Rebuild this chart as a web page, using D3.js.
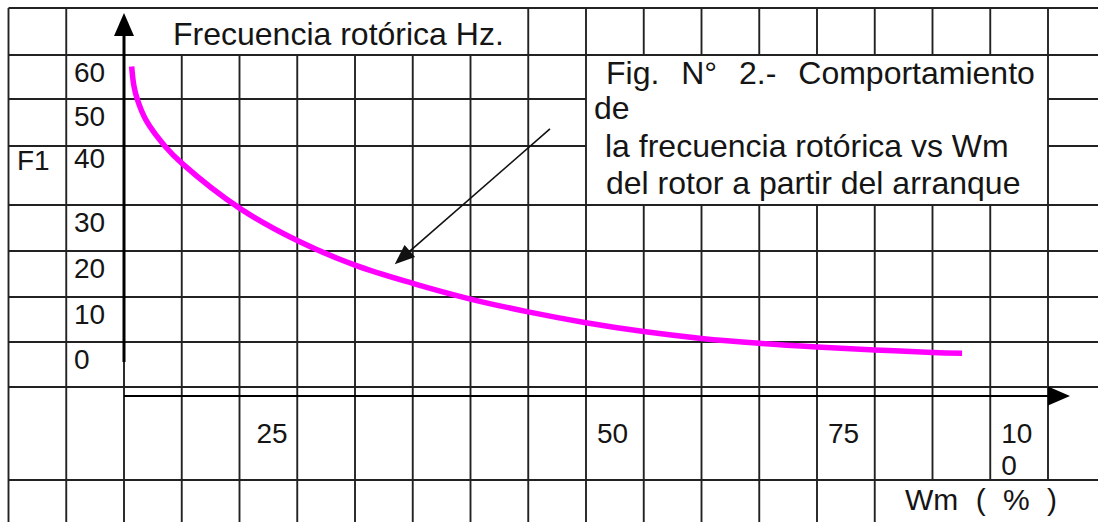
<!DOCTYPE html>
<html>
<head>
<meta charset="utf-8">
<script src="https://cdn.jsdelivr.net/npm/d3@7"></script>
<style>
  body { margin: 0; background: #fff; }
  svg { display: block; }
  text { font-family: "Liberation Sans", Arial, sans-serif; fill: #151515; }
</style>
</head>
<body>
<svg></svg>
<script>
// ---------------- data ----------------
const wm = [0.83, 1.06, 1.46, 2.38, 4.44, 6.28, 12.5, 18.75, 25, 31.25, 37.5, 43.75, 50, 56.25, 62.5, 68.75, 75, 81.25, 87.5, 90.7];
const f1 = [60.1, 56.3, 53.3, 49.2, 43.9, 40.4, 31.3, 24.7, 19.7, 16.0, 12.8, 10.2, 8.0, 6.2, 4.8, 3.8, 3.05, 2.45, 1.95, 1.8];
const yTicks = [60, 50, 40, 30, 20, 10, 0];
const xTicks = [25, 50, 75, 100];
const xTickLabels = [["25"], ["50"], ["75"], ["10", "0"]];
const titleText = "Frecuencia rotórica Hz.";
const figLines = ["Fig. N° 2.- Comportamiento", "de", "la frecuencia rotórica vs Wm", "del rotor a partir del arranque"];
// pointer arrow: tail and head, in data units
const pointer = [[46.1, 47.4], [29.3, 19.9]];

function init() {
var width = 1098, height = 522;
var svg = d3.select("svg").attr("width", width).attr("height", height);

const xs = d3.scaleLinear().domain([0, 100]).range([124, 1048]);
const ys = d3.scaleLinear().domain([0, 60]).range([362, 67]);
const colW = xs(6.25) - xs(0);

// ================= table grid =================
const rows = [8, 55, 99, 146, 205, 251, 297, 342, 387, 480, 540];
const cols = d3.range(-12.5, 106.3, 6.25);
const gridColor = "#222";

var segs = [];
// horizontal rules
rows.forEach(y => {
  if (y === 99 || y === 146) {
    segs.push([xs(-12.5), y, xs(50), y]);
    segs.push([xs(100), y, width, y]);
  } else {
    segs.push([xs(-12.5), y, width, y]);
  }
});
// vertical rules, cell by cell
cols.forEach(c => {
  var x = xs(c);
  for (var i = 0; i < rows.length - 1; i++) {
    var y0 = rows[i], y1 = rows[i + 1];
    if (i === 0 && c > -6.25 && c < 43.75) continue;     // title cell
    if (i >= 1 && i <= 3 && c > 50 && c < 100) continue;  // figure caption box
    if (i === 9 && c > 81.25) continue;                   // "Wm ( % )" cell
    segs.push([x, y0, x, y1]);
  }
});

svg.append("g")
  .selectAll("line")
  .data(segs)
  .enter()
  .append("line")
  .attr("x1", d => d[0]).attr("y1", d => d[1])
  .attr("x2", d => d[2]).attr("y2", d => d[3])
  .attr("stroke", gridColor)
  .attr("stroke-width", 1.9);

// ================= axes =================
svg.append("line")
  .attr("x1", xs(0)).attr("x2", xs(0))
  .attr("y1", ys(0)).attr("y2", 30)
  .attr("stroke", "#000").attr("stroke-width", 3);
svg.append("path")
  .attr("d", "M" + xs(0) + ",13 L" + (xs(0) + 10) + ",36 L" + (xs(0) - 10) + ",36 Z")
  .attr("fill", "#000");

svg.append("line")
  .attr("x1", xs(0)).attr("x2", xs(100))
  .attr("y1", 396).attr("y2", 396)
  .attr("stroke", "#000").attr("stroke-width", 2);
svg.append("path")
  .attr("d", "M1070,396 L" + xs(100) + ",386.5 L" + xs(100) + ",405.5 Z")
  .attr("fill", "#000");

// y tick labels sit in the table rows
svg.append("g")
  .selectAll("text")
  .data(yTicks)
  .enter()
  .append("text")
  .attr("x", 74)
  .attr("y", (d, i) => rows[i + 1] + (d === 40 ? 22 : 27))
  .attr("font-size", 28)
  .text(d => d);

svg.append("text").attr("x", 17).attr("y", 170).attr("font-size", 28).text("F1");

// x tick labels: placed in a table cell near their value
const cellShift = { 25: -2, 50: 0, 75: 0, 100: -1 };
var xl = svg.append("g")
  .selectAll("text")
  .data(xTicks)
  .enter()
  .append("text")
  .attr("font-size", 28)
  .attr("y", 443);
xl.each(function (d, i) {
  var x0 = xs(d) + cellShift[d] * colW + 11 + (d === 25 ? 6 : 0);
  xTickLabels[i].forEach((s, k) => {
    d3.select(this).append("tspan").attr("x", x0).attr("y", 443 + k * 32).text(s);
  });
});

svg.append("text")
  .attr("x", 905).attr("y", 510)
  .attr("font-size", 30)
  .attr("word-spacing", 9)
  .text("Wm ( % )");

// ================= title and caption =================
svg.append("text")
  .attr("x", 173).attr("y", 45)
  .attr("font-size", 32)
  .text(titleText);

const capY = [84, 119, 157, 194];
const capX = [606, 594, 605, 606];
svg.append("g")
  .selectAll("text")
  .data(figLines)
  .enter()
  .append("text")
  .attr("x", (d, i) => capX[i])
  .attr("y", (d, i) => capY[i])
  .attr("font-size", 32)
  .attr("word-spacing", (d, i) => i === 0 ? 13 : 0)
  .text(d => d);

// ================= curve =================
const line = d3.line()
  .x(d => xs(d[0]))
  .y(d => ys(d[1]))
  .curve(d3.curveCatmullRom.alpha(0.5));

svg.append("path")
  .datum(d3.zip(wm, f1))
  .attr("fill", "none")
  .attr("stroke", "#ff00ff")
  .attr("stroke-width", 5.5)
  .attr("d", line);

// ================= pointer arrow =================
var tx = xs(pointer[0][0]), ty = ys(pointer[0][1]);
var hx = xs(pointer[1][0]), hy = ys(pointer[1][1]);
var len = Math.hypot(hx - tx, hy - ty);
var ux = (hx - tx) / len, uy = (hy - ty) / len;
var bx = hx - ux * 20, by = hy - uy * 20;
svg.append("line")
  .attr("x1", tx).attr("y1", ty).attr("x2", bx).attr("y2", by)
  .attr("stroke", "#111").attr("stroke-width", 1.6);
svg.append("path")
  .attr("d", "M" + hx + "," + hy +
    " L" + (bx - uy * 8) + "," + (by + ux * 8) +
    " L" + (bx + uy * 8) + "," + (by - ux * 8) + " Z")
  .attr("fill", "#111");
}

init();
</script>
</body>
</html>
